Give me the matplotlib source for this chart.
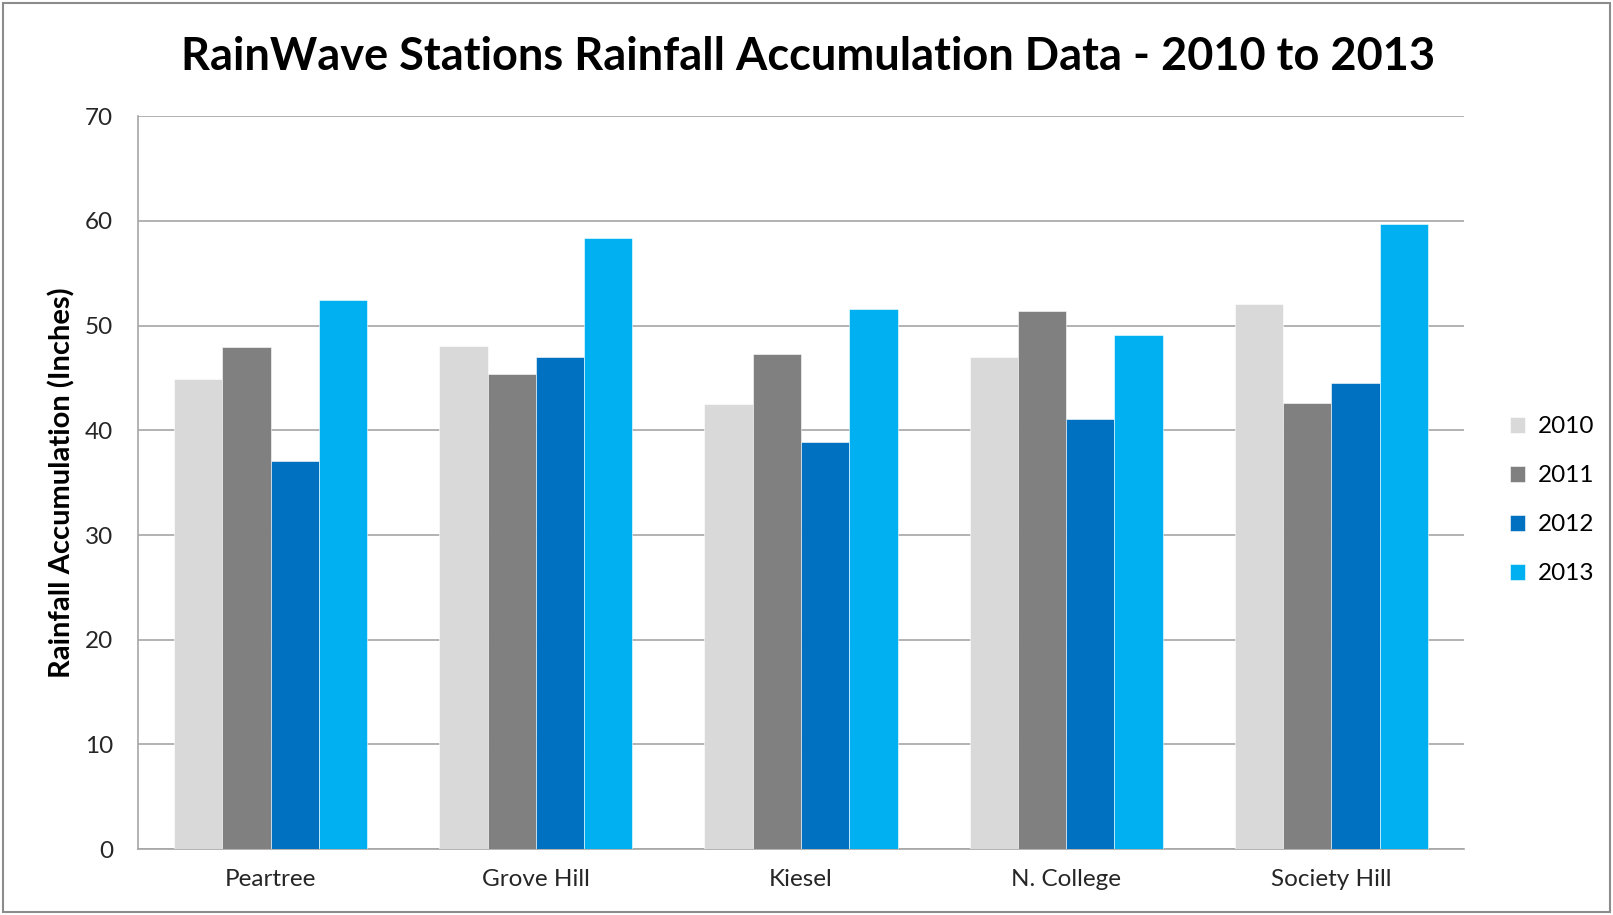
import numpy as np
import matplotlib.pyplot as plt
from matplotlib.patches import Rectangle

plt.rcParams['font.family'] = ['Lato', 'DejaVu Sans']

stations = ['Peartree', 'Grove Hill', 'Kiesel', 'N. College', 'Society Hill']
years = ['2010', '2011', '2012', '2013']
rain_2010 = [44.9, 48.1, 42.5, 47.0, 52.1]
rain_2011 = [48.0, 45.4, 47.3, 51.4, 42.6]
rain_2012 = [37.1, 47.0, 38.9, 41.1, 44.5]
rain_2013 = [52.4, 58.4, 51.6, 49.1, 59.7]
colors = ['#D9D9D9', '#808080', '#0070C0', '#00B0F0']

series = [rain_2010, rain_2011, rain_2012, rain_2013]

fig = plt.figure(figsize=(16.13, 9.15), dpi=100)
ax = fig.add_axes([0.0856, 0.072, 0.822, 0.801])

x = np.arange(len(stations))
w = 0.182
for i, (vals, c) in enumerate(zip(series, colors)):
    ax.bar(x + (i - 1.5) * w, vals, w, color=c, label=years[i], zorder=3,
           edgecolor='white', linewidth=0.4)

ax.set_xlim(-0.5, len(stations) - 0.5)
ax.set_ylim(0, 70)
ax.set_yticks(range(0, 71, 10))
ax.set_xticks(x)
ax.set_xticklabels(stations)
ax.grid(axis='y', color='#A6A6A6', linewidth=1.2, zorder=0)
for s in ['top', 'right']:
    ax.spines[s].set_visible(False)
ax.spines['left'].set_color('#A6A6A6')
ax.spines['bottom'].set_color('#A6A6A6')
ax.spines['left'].set_linewidth(1.2)
ax.spines['bottom'].set_linewidth(1.2)
ax.tick_params(axis='both', length=0, labelsize=17.5, colors='#262626')
ax.tick_params(axis='x', pad=14)
ax.tick_params(axis='y', pad=18)

ax.set_ylabel('Rainfall Accumulation (Inches)', fontsize=21, fontweight='bold', labelpad=7)
fig.text(0.501, 0.938, 'RainWave Stations Rainfall Accumulation Data - 2010 to 2013',
         ha='center', va='center', fontsize=32.5, fontweight='bold')

leg = ax.legend(loc='center left', bbox_to_anchor=(1.018, 0.476), frameon=False, fontsize=17.5,
                handlelength=0.65, handleheight=0.65, labelspacing=1.15, handletextpad=0.5)

fig.patches.append(Rectangle((0.002, 0.003), 0.996, 0.994, transform=fig.transFigure,
                             fill=False, edgecolor='#8C8C8C', linewidth=1.5))

fig.savefig('out.png', dpi=100)
